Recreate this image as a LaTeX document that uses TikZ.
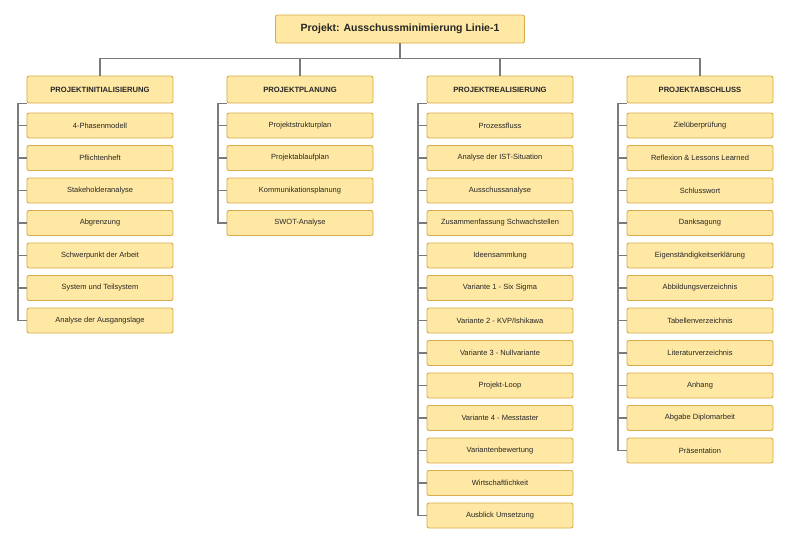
\documentclass[tikz,border=0pt]{standalone}
\usepackage{fontspec}
\setmainfont{Liberation Sans}
\usepackage{tikz}
\usetikzlibrary{arrows.meta,positioning,trees}

\definecolor{boxfill}{HTML}{FFE8A3}
\definecolor{boxdraw}{HTML}{D8AC4A}
\definecolor{linegray}{HTML}{7A7A7A}
\definecolor{textgray}{HTML}{262626}

\begin{document}
\begin{tikzpicture}[
		basic/.style  = {draw=boxdraw, fill=boxfill, text=textgray, rectangle, rounded corners=2pt, line width=0.9pt, inner sep=0pt},
		root/.style   = {basic, minimum width=249pt, minimum height=28pt, font=\fontsize{10.5}{12}\selectfont\bfseries},
		level 1/.style={sibling distance=200pt, level distance=60.5pt},
		level 2/.style = {basic, minimum width=146pt, minimum height=27pt, font=\fontsize{7.6}{9}\selectfont\bfseries},
		level 3/.style = {basic, minimum width=146pt, minimum height=25pt, font=\fontsize{7.5}{9}\selectfont},
		link/.style = {draw=linegray, line width=1.4pt},
		edge from parent/.style={link},
		edge from parent path={(\tikzparentnode.south) -- ++(0,-15pt) -| (\tikzchildnode.north)},
		node distance=32.5pt]
		
		\useasboundingbox (-400pt,29pt) rectangle (400pt,-517pt);
		
		% Root of the tree, level 1
		\node[root] (c0) {Projekt: Ausschussminimierung Linie-1}
		% The phases, as children of the root
		child {node[level 2] (c1) {PROJEKTINITIALISIERUNG}}
		child {node[level 2] (c2) {PROJEKTPLANUNG}}
		child {node[level 2] (c3) {PROJEKTREALISIERUNG}}
		child {node[level 2] (c4) {PROJEKTABSCHLUSS}};
		
		% Tasks of each phase, relatively positioned nodes
		\begin{scope}[every node/.style={level 3}]
			\node [below of = c1, yshift=-3.5pt] (c11) {4-Phasenmodell};
			\node [below of = c11] (c12) {Pflichtenheft};
			\node [below of = c12] (c13) {Stakeholderanalyse};
			\node [below of = c13] (c14) {Abgrenzung};
			\node [below of = c14] (c15) {Schwerpunkt der Arbeit};
			\node [below of = c15] (c16) {System und Teilsystem};
			\node [below of = c16] (c17) {Analyse der Ausgangslage};
			
			\node [below of = c2, yshift=-3.5pt] (c21) {Projektstrukturplan};
			\node [below of = c21] (c22) {Projektablaufplan};
			\node [below of = c22] (c23) {Kommunikationsplanung};
			\node [below of = c23] (c24) {SWOT-Analyse};
			
			\node [below of = c3, yshift=-3.5pt] (c31) {Prozessfluss};
			\node [below of = c31] (c32) {Analyse der IST-Situation};
			\node [below of = c32] (c33) {Ausschussanalyse};
			\node [below of = c33] (c34) {Zusammenfassung Schwachstellen};
			\node [below of = c34] (c35) {Ideensammlung};
			\node [below of = c35] (c36) {Variante 1 - Six Sigma};
			\node [below of = c36] (c37) {Variante 2 - KVP/Ishikawa};
			\node [below of = c37] (c38) {Variante 3 - Nullvariante};
			\node [below of = c38] (c39) {Projekt-Loop};
			\node [below of = c39] (c310) {Variante 4 - Messtaster};
			\node [below of = c310] (c311) {Variantenbewertung};
			\node [below of = c311] (c312) {Wirtschaftlichkeit};
			\node [below of = c312] (c313) {Ausblick Umsetzung};
			
			\node [below of = c4, yshift=-3.5pt] (c41) {Zielüberprüfung};
			\node [below of = c41] (c42) {Reflexion \& Lessons Learned};
			\node [below of = c42] (c43) {Schlusswort};
			\node [below of = c43] (c44) {Danksagung};
			\node [below of = c44] (c45) {Eigenständigkeitserklärung};
			\node [below of = c45] (c46) {Abbildungsverzeichnis};
			\node [below of = c46] (c47) {Tabellenverzeichnis};
			\node [below of = c47] (c48) {Literaturverzeichnis};
			\node [below of = c48] (c49) {Anhang};
			\node [below of = c49] (c410) {Abgabe Diplomarbeit};
			\node [below of = c410] (c411) {Präsentation};
		\end{scope}
		
		% Trunk beside each phase
		\foreach \col in {1,...,4}
		\coordinate (t\col) at ([xshift=-8.5pt]c\col.south west);
		
		% Lines from each phase to every one of its tasks
		\foreach \value in {1,...,7}
		\draw[link] (c1.south west) -- (t1) |- (c1\value.west);
		
		\foreach \value in {1,...,4}
		\draw[link] (c2.south west) -- (t2) |- (c2\value.west);
		
		\foreach \value in {1,...,13}
		\draw[link] (c3.south west) -- (t3) |- (c3\value.west);
		
		\foreach \value in {1,...,11}
		\draw[link] (c4.south west) -- (t4) |- (c4\value.west);
		
	\end{tikzpicture}
\end{document}
